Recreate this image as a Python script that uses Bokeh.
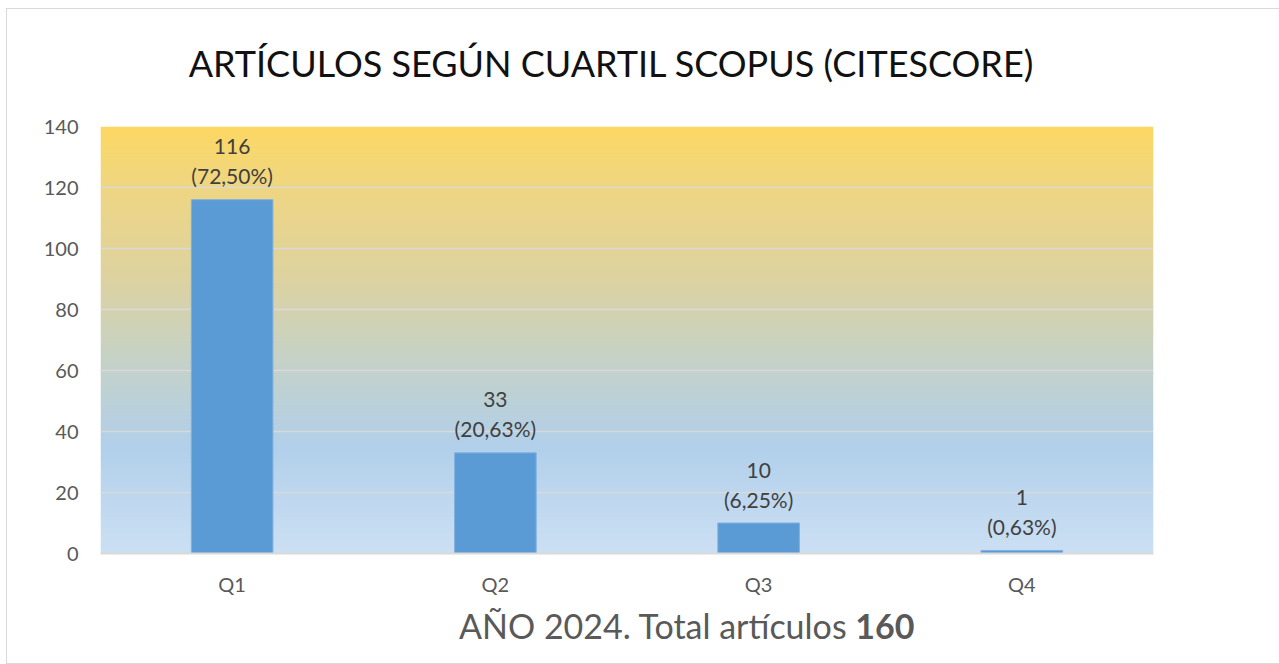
import numpy as np
from bokeh.plotting import figure
from bokeh.models import Range1d, FixedTicker, Div
from bokeh.layouts import column
from bokeh.core.properties import value
from bokeh.embed import file_html
from bokeh.resources import INLINE

# ---- data ----
categories = ["Q1", "Q2", "Q3", "Q4"]
counts = [116, 33, 10, 1]
pct_labels = ["(72,50%)", "(20,63%)", "(6,25%)", "(0,63%)"]
y_ticks = [0, 20, 40, 60, 80, 100, 120, 140]
title_text = "ARTÍCULOS SEGÚN CUARTIL SCOPUS (CITESCORE)"
xlabel_text = "AÑO 2024. Total artículos"
total_text = "160"

FONT = "Lato"
W = 1268

title_div = Div(
    text=(f'<div style="width:1198px;text-align:center;font-family:{FONT};'
          f'font-size:36px;line-height:1;color:#111111;padding-top:31px;'
          f'white-space:nowrap;">{title_text}</div>'),
    width=W, height=90)

p = figure(width=W, height=494, output_backend="svg", toolbar_location=None,
           x_range=Range1d(0, len(categories)), y_range=Range1d(0, 140),
           min_border_left=93, min_border_right=122, min_border_top=17,
           min_border_bottom=50)
p.outline_line_color = None
p.background_fill_color = "white"
p.border_fill_color = "white"

# gradient background inside plot area
stops_pos = [0.0, 0.15, 0.35, 0.55, 0.75, 1.0]
stops_col = [(253, 216, 100), (238, 214, 132), (222, 211, 160),
             (197, 210, 200), (178, 208, 235), (204, 224, 244)]
n = 300
frac_top = 1 - np.linspace(0, 1, n)
img = np.zeros((n, 1), dtype=np.uint32)
view = img.view(dtype=np.uint8).reshape((n, 1, 4))
for c in range(3):
    view[:, 0, c] = np.interp(frac_top, stops_pos, [s[c] for s in stops_col]).astype(np.uint8)
view[:, 0, 3] = 255
p.image_rgba(image=[img], x=0, y=0, dw=len(categories), dh=140, level="image")

# bars
xs = [i + 0.5 for i in range(len(categories))]
p.vbar(x=xs, top=counts, width=0.31, bottom=0, fill_color="#5B9BD5",
       line_color="#80B1DE", line_width=1)

# data labels
p.text(x=xs, y=counts, text=pct_labels, text_align="center", text_baseline="middle",
       y_offset=-24, text_font=value(FONT), text_font_size="21px", text_color="#404040")
p.text(x=xs, y=counts, text=[str(c) for c in counts], text_align="center",
       text_baseline="middle", y_offset=-53, text_font=value(FONT),
       text_font_size="21px", text_color="#404040")

# axes
p.xaxis.ticker = FixedTicker(ticks=xs)
p.xaxis.major_label_overrides = {x: c for x, c in zip(xs, categories)}
p.xaxis.major_tick_line_color = None
p.xaxis.minor_tick_line_color = None
p.xaxis.axis_line_color = "#D9D9D9"
p.xaxis.axis_line_width = 2
p.xaxis.major_label_standoff = 12
p.xaxis.major_label_text_font = FONT
p.xaxis.major_label_text_font_size = "20px"
p.xaxis.major_label_text_color = "#595959"

p.yaxis.ticker = FixedTicker(ticks=y_ticks)
p.yaxis.major_tick_line_color = None
p.yaxis.minor_tick_line_color = None
p.yaxis.axis_line_color = None
p.yaxis.major_label_standoff = 16
p.yaxis.major_label_text_font = FONT
p.yaxis.major_label_text_font_size = "20px"
p.yaxis.major_label_text_color = "#595959"

p.xgrid.grid_line_color = None
p.ygrid.ticker = FixedTicker(ticks=y_ticks)
p.ygrid.grid_line_color = "#D9D9D9"
p.ygrid.grid_line_width = 1.5

xlabel_div = Div(
    text=(f'<div style="padding-left:447px;font-family:{FONT};font-size:34px;'
          f'line-height:1;color:#595959;padding-top:1px;white-space:nowrap;">'
          f'{xlabel_text} <b>{total_text}</b></div>'),
    width=W, height=50)

layout = column(title_div, p, xlabel_div, spacing=0)
layout.styles = {"border": "1px solid #d9d9d9", "margin-left": "6px",
                 "margin-top": "8px", "background-color": "white"}

open("out.html", "w").write(file_html(layout, INLINE))
